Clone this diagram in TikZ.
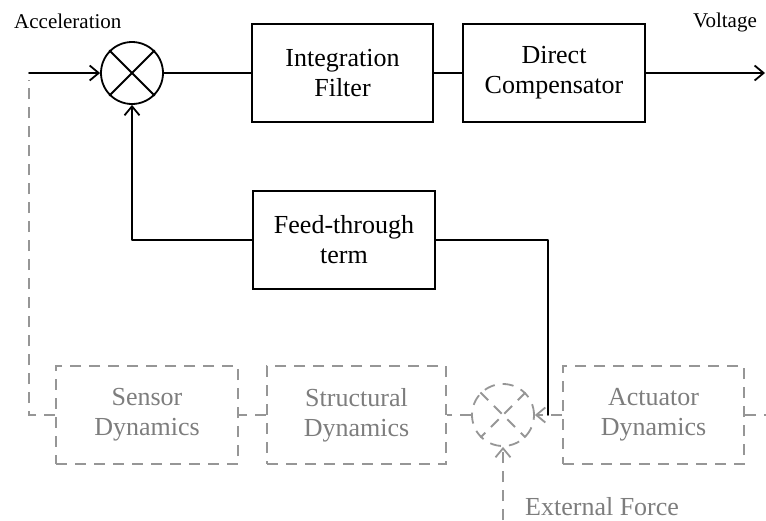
\documentclass[tikz,border=0pt]{standalone}
\usepackage{fontspec}
\setmainfont{Liberation Serif}
\usetikzlibrary{arrows.meta}
\definecolor{dimline}{RGB}{150,150,150}
\definecolor{dimtext}{RGB}{125,125,125}
\tikzset{
  wire/.style={line width=1.8pt, line cap=round, line join=round},
  dimwire/.style={line width=1.8pt, draw=dimline, dash pattern=on 11pt off 8pt},
  tip/.style={-{Straight Barb[length=9pt,width=15pt,line width=1.8pt]}},
  block/.style={draw, line width=1.8pt, rectangle, minimum height=98pt,
    align=center, inner sep=0pt, font=\fontsize{26}{30}\selectfont},
  dimblock/.style={block, draw=dimline, dash pattern=on 11pt off 8pt, text=dimtext},
  junction/.style={draw, circle, line width=1.8pt, minimum size=62pt, inner sep=0pt},
  tag/.style={inner sep=0pt, font=\fontsize{21}{24}\selectfont},
}
\begin{document}
\begin{tikzpicture}[x=1pt, y=-1pt]
  \useasboundingbox (0,0) rectangle (766,520);

  % forward path
  \node[junction] (sum) at (132,73) {};
  \draw[wire] (sum.45) -- (sum.225) (sum.135) -- (sum.315);
  \node[block, minimum width=181pt] (intf) at (342.5,73) {Integration\\Filter};
  \node[block, minimum width=182pt] (dirc) at (554,73) {Direct\\Compensator};
  \node[block, minimum width=182pt] (feed) at (344,240) {Feed-through\\term};

  % plant (dimmed)
  \node[dimblock, minimum width=182pt] (sens) at (147,415) {Sensor\\Dynamics};
  \node[dimblock, minimum width=179pt] (strc) at (356.5,415) {Structural\\Dynamics};
  \node[junction, draw=dimline, dash pattern=on 11pt off 8pt] (dsum) at (503,415) {};
  \draw[dimwire] (dsum.45) -- (dsum.225) (dsum.135) -- (dsum.315);
  \node[dimblock, minimum width=181pt] (actu) at (653.5,415) {Actuator\\Dynamics};

  % labels
  \node[tag, anchor=base west] (acc) at (14,28) {Acceleration};
  \node[tag, anchor=base east] (volt) at (757,27) {Voltage};
  \node[tag, anchor=base west, text=dimtext, font=\fontsize{26}{30}\selectfont] (ext) at (525,515) {External Force};

  % helper points
  \coordinate (inL) at (29,73);
  \coordinate (inLd) at (29,80);
  \coordinate (out) at (765,73);
  \coordinate (fbL) at (132,240);
  \coordinate (fbR) at (548,240);
  \coordinate (fbD) at (548,415);
  \coordinate (sensL) at (29,415);
  \coordinate (actR) at (766,415);
  \coordinate (extB) at (503,520);

  % solid connectors
  \draw[wire, tip] (inL) -- (sum.west);
  \draw[wire] (sum.east) -- (intf.west);
  \draw[wire] (intf.east) -- (dirc.west);
  \draw[wire, tip] (dirc.east) -- (out);
  \draw[wire, tip] (feed.west) -- (fbL) -- (sum.south);
  \draw[wire] (feed.east) -- (fbR) -- (fbD);

  % dimmed connectors
  \draw[dimwire] (sens.west) -- (sensL) -- (inLd);
  \draw[dimwire] (strc.west) -- (sens.east);
  \draw[dimwire] (dsum.west) -- (strc.east);
  \draw[dimwire, tip] (actu.west) -- (dsum.east);
  \draw[dimwire] (actu.east) -- (actR);
  \draw[dimwire, tip] (extB) -- (dsum.south);
\end{tikzpicture}
\end{document}
